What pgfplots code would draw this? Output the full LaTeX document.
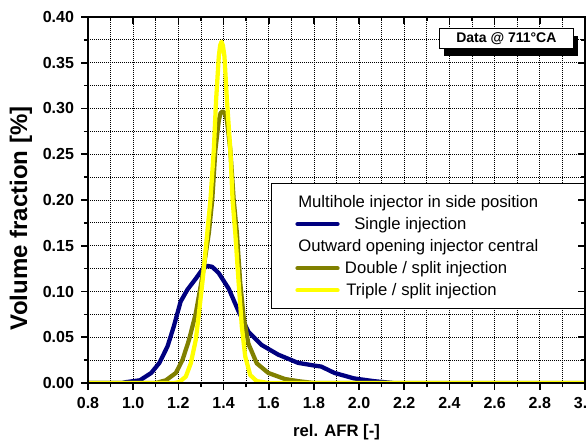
\documentclass[border=0pt]{standalone}
\usepackage{pgfplots}
\pgfplotsset{compat=1.18}
\usepackage{fontspec}
\setmainfont{Liberation Sans}
\usetikzlibrary{shadows}
\definecolor{cnavy}{RGB}{0,0,128}
\definecolor{colive}{RGB}{128,128,0}
\definecolor{cyellow}{RGB}{255,255,0}
\begin{document}
\begin{tikzpicture}
\pgfplotsset{
  common/.style={
    scale only axis, width=372.75pt, height=274.5pt,
    xmin=0.8, xmax=3.0, ymin=0, ymax=0.4,
    xtick={0.8,1.0,...,3.0}, minor x tick num=1,
    ytick={0,0.05,...,0.40}, minor y tick num=1,
    axis line style={line width=1.5pt},
    major tick length=5pt, minor tick length=3pt,
    every tick/.style={black, line width=1.2pt},
    every minor tick/.style={black, line width=1pt},
  }
}
\begin{axis}[common, name=main,
  tick align=outside, xtick pos=lower, ytick pos=left,
  grid=both,
  major grid style={black, line width=0.6pt, dash pattern=on 0.6pt off 0.9pt},
  minor grid style={black, line width=0.6pt, dash pattern=on 0.6pt off 0.9pt},
  /pgf/number format/assume math mode=true,
  ticklabel style={font=\fontsize{12}{14}\selectfont\bfseries},
  xticklabel style={/pgf/number format/fixed, /pgf/number format/fixed zerofill, /pgf/number format/precision=1, yshift=-2pt},
  yticklabel style={/pgf/number format/fixed, /pgf/number format/fixed zerofill, /pgf/number format/precision=2, xshift=-2pt},
  xlabel={rel. AFR [-]},
  ylabel={Volume fraction [\%]},
  xlabel style={font=\fontsize{12.5}{15}\selectfont\bfseries, at={(axis description cs:0.5,-0.134)}, anchor=center},
  ylabel style={font=\fontsize{18}{21}\selectfont\bfseries, at={(axis description cs:-0.135,0.45)}, anchor=center},
  legend style={at={(rel axis cs:0.368,0.546)}, anchor=north west,
    draw=black, line width=0.75pt, fill=white,
    inner xsep=18pt, inner ysep=6.5pt, row sep=2pt,
    font=\fontsize{12.5}{14}\selectfont},
  legend cell align=left,
  legend image code/.code={\draw[#1] (0pt,0pt) -- (30pt,0pt);},
  every axis plot/.append style={line width=3.2pt, line join=round, line cap=round},
]
\addlegendimage{empty legend}
\addlegendentry{\hspace*{-33pt}Multihole injector in side position\hspace*{40pt}}
\addplot[cnavy] coordinates {
(0.80,0) (0.95,0.0) (0.97,0.001) (1.03,0.003) (1.08,0.011) (1.116,0.022) (1.152,0.040)
(1.18,0.062) (1.21,0.089) (1.24,0.102) (1.277,0.114) (1.306,0.124) (1.328,0.128)
(1.35,0.127) (1.379,0.12) (1.423,0.103) (1.467,0.078) (1.51,0.056) (1.569,0.0415)
(1.642,0.031) (1.73,0.022) (1.803,0.019) (1.832,0.018) (1.891,0.011) (1.978,0.005)
(2.066,0.002) (2.15,0.0)
};
\addlegendentry{\hspace*{9pt}Single injection}
\addlegendimage{empty legend}
\addlegendentry{\hspace*{-33pt}Outward opening injector central}
\addplot[colive] coordinates {
(0.8,0) (1.10,0.0) (1.145,0.003) (1.189,0.011) (1.218,0.025) (1.247,0.047) (1.277,0.076)
(1.306,0.116) (1.335,0.164) (1.35,0.2) (1.364,0.255) (1.379,0.287) (1.387,0.295)
(1.396,0.297) (1.405,0.295) (1.415,0.287) (1.43,0.255) (1.445,0.2) (1.459,0.164)
(1.474,0.109) (1.489,0.072) (1.51,0.043) (1.547,0.0215) (1.598,0.011) (1.671,0.0044)
(1.73,0.002) (1.80,0.0) (3.0,0)
};
\addlegendentry{\hspace*{2pt}Double / split injection}
\addplot[cyellow] coordinates {
(0.8,0) (1.18,0) (1.204,0.001) (1.233,0.007) (1.255,0.0215) (1.277,0.047) (1.291,0.076)
(1.309,0.116) (1.328,0.164) (1.342,0.2) (1.357,0.255) (1.367,0.309) (1.379,0.357)
(1.385,0.369) (1.391,0.373) (1.397,0.369) (1.404,0.357) (1.415,0.309) (1.43,0.255)
(1.44,0.2) (1.452,0.164) (1.467,0.109) (1.481,0.0615) (1.496,0.029) (1.518,0.0087)
(1.547,0.002) (1.6,0.0) (3.0,0)
};
\addlegendentry{\hspace*{3pt}Triple / split injection}
\node[draw=black, line width=0.75pt, fill=white, font=\fontsize{10.5}{12}\selectfont\bfseries,
  minimum width=100pt, minimum height=15pt, inner sep=2pt,
  drop shadow={shadow xshift=3.5pt, shadow yshift=-5pt, fill=black, opacity=1}]
  at (axis cs:2.652,0.376) {Data @ 711°CA};
\end{axis}
\begin{axis}[common,
  tick align=inside, xtick pos=upper, ytick pos=right,
  xticklabels={}, yticklabels={},
]
\end{axis}
\pgfresetboundingbox
\path ([shift={(-66pt,-45pt)}]main.south west) rectangle ([shift={(0.75pt,12.75pt)}]main.north east);
\end{tikzpicture}
\end{document}
